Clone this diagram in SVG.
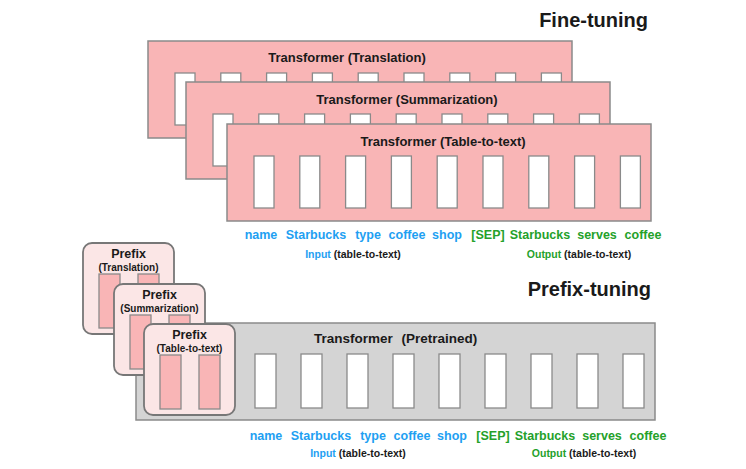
<svg xmlns="http://www.w3.org/2000/svg" width="746" height="469" viewBox="0 0 746 469">
<defs>
<style>
.bg{fill:#ffffff}
.tf{fill:#f9b5b6;stroke:#8a8a8a;stroke-width:1.5}
.gr{fill:#d4d4d4;stroke:#8a8a8a;stroke-width:1.5}
.cell{fill:#ffffff;stroke:#8a8a8a;stroke-width:1.3}
.pb{fill:#fbe6e6;stroke:#777777;stroke-width:1.8}
.pc{fill:#f9b5b6;stroke:#8a8a8a;stroke-width:1.3}
text{font-family:"Liberation Sans",Arial,sans-serif;font-weight:bold;fill:#1a1a1a}
.title{font-size:20px}
.bt{font-size:13px;text-anchor:middle}
.pt{font-size:12.5px;text-anchor:middle}
.ps{font-size:10px;text-anchor:middle}
.tok{font-size:12.5px;text-anchor:middle}
.in{fill:#1ea0f2}
.out{fill:#24a12a}
.lab{font-size:10.5px;text-anchor:middle}
</style>
<g id="cells9">
<rect class="cell" x="0" y="0" width="20" height="52"/>
<rect class="cell" x="45.8" y="0" width="20" height="52"/>
<rect class="cell" x="91.6" y="0" width="20" height="52"/>
<rect class="cell" x="137.4" y="0" width="20" height="52"/>
<rect class="cell" x="183.2" y="0" width="20" height="52"/>
<rect class="cell" x="229" y="0" width="20" height="52"/>
<rect class="cell" x="274.8" y="0" width="20" height="52"/>
<rect class="cell" x="320.6" y="0" width="20" height="52"/>
<rect class="cell" x="366.4" y="0" width="20" height="52"/>
</g>
<g id="pcells">
<rect class="pc" x="16" y="31" width="21" height="54"/>
<rect class="pc" x="55" y="31" width="21" height="54"/>
</g>
</defs>
<rect class="bg" x="0" y="0" width="746" height="469"/>

<text class="title" x="648" y="27" text-anchor="end">Fine-tuning</text>
<text class="title" x="651" y="296" text-anchor="end">Prefix-tuning</text>

<g id="tf-translation">
<rect class="tf" x="148" y="41" width="424" height="97"/>
<use href="#cells9" x="175" y="73"/>
<text class="bt" x="347" y="62">Transformer (Translation)</text>
</g>
<g id="tf-summarization">
<rect class="tf" x="186" y="82" width="424" height="97"/>
<use href="#cells9" x="213" y="114"/>
<text class="bt" x="407" y="104">Transformer (Summarization)</text>
</g>
<g id="tf-table">
<rect class="tf" x="227" y="124" width="424" height="97"/>
<use href="#cells9" x="254" y="156"/>
<text class="bt" x="443" y="146">Transformer (Table-to-text)</text>
</g>

<g id="tokens-ft">
<text class="tok in" x="261" y="239">name</text>
<text class="tok in" x="316" y="239">Starbucks</text>
<text class="tok in" x="368" y="239">type</text>
<text class="tok in" x="407" y="239">coffee</text>
<text class="tok in" x="447" y="239">shop</text>
<text class="tok out" x="488" y="239">[SEP]</text>
<text class="tok out" x="540" y="239">Starbucks</text>
<text class="tok out" x="597" y="239">serves</text>
<text class="tok out" x="643" y="239">coffee</text>
<text class="lab" x="353" y="258"><tspan class="in">Input</tspan> (table-to-text)</text>
<text class="lab" x="579" y="258"><tspan class="out">Output</tspan> (table-to-text)</text>
</g>

<g id="tf-pretrained">
<rect class="gr" x="136" y="323" width="519" height="97"/>
<rect class="cell" x="255" y="354" width="21" height="54"/>
<rect class="cell" x="301" y="354" width="21" height="54"/>
<rect class="cell" x="347" y="354" width="21" height="54"/>
<rect class="cell" x="393" y="354" width="21" height="54"/>
<rect class="cell" x="439" y="354" width="21" height="54"/>
<rect class="cell" x="485" y="354" width="21" height="54"/>
<rect class="cell" x="531" y="354" width="21" height="54"/>
<rect class="cell" x="577" y="354" width="21" height="54"/>
<rect class="cell" x="623" y="354" width="21" height="54"/>
<text x="314" y="343" font-size="13.5" word-spacing="5">Transformer (Pretrained)</text>
</g>

<g id="prefix-translation">
<rect class="pb" x="83" y="243" width="91" height="91" rx="9"/>
<use href="#pcells" x="83" y="243"/>
<text class="pt" x="128.5" y="258">Prefix</text>
<text class="ps" x="128.5" y="271">(Translation)</text>
</g>
<g id="prefix-summarization">
<rect class="pb" x="114" y="284" width="91" height="91" rx="9"/>
<use href="#pcells" x="114" y="284"/>
<text class="pt" x="159.5" y="299">Prefix</text>
<text class="ps" x="159.5" y="312">(Summarization)</text>
</g>
<g id="prefix-table">
<rect class="pb" x="144" y="324" width="91" height="91" rx="9"/>
<use href="#pcells" x="144" y="324"/>
<text class="pt" x="189.5" y="339">Prefix</text>
<text class="ps" x="189.5" y="352">(Table-to-text)</text>
</g>

<g id="tokens-pt">
<text class="tok in" x="266" y="440">name</text>
<text class="tok in" x="321" y="440">Starbucks</text>
<text class="tok in" x="373" y="440">type</text>
<text class="tok in" x="412" y="440">coffee</text>
<text class="tok in" x="452" y="440">shop</text>
<text class="tok out" x="493" y="440">[SEP]</text>
<text class="tok out" x="545" y="440">Starbucks</text>
<text class="tok out" x="602" y="440">serves</text>
<text class="tok out" x="648" y="440">coffee</text>
<text class="lab" x="358" y="457"><tspan class="in">Input</tspan> (table-to-text)</text>
<text class="lab" x="584" y="457"><tspan class="out">Output</tspan> (table-to-text)</text>
</g>

<g id="connectors"></g>
</svg>
